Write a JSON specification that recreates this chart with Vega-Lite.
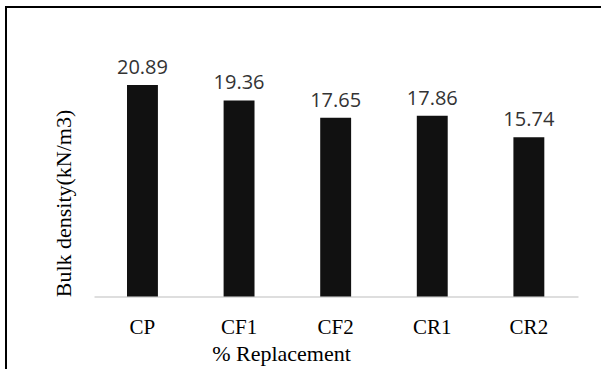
{
  "$schema": "https://vega.github.io/schema/vega-lite/v6.json",
  "width": 595,
  "height": 362,
  "autosize": {"type": "none"},
  "padding": {"left": 6, "top": 7, "right": 0, "bottom": 0},
  "background": "white",
  "config": {
    "view": {"stroke": "#000000", "strokeWidth": 2, "strokeDash": [595, 957, 362, 10]}
  },
  "data": {
    "values": [
      {"mix": "CP", "density": 20.89},
      {"mix": "CF1", "density": 19.36},
      {"mix": "CF2", "density": 17.65},
      {"mix": "CR1", "density": 17.86},
      {"mix": "CR2", "density": 15.74}
    ]
  },
  "encoding": {
    "x": {
      "field": "mix",
      "type": "nominal",
      "sort": null,
      "scale": {"paddingInner": 0.68, "paddingOuter": 0.9197, "align": 0.681},
      "axis": {
        "title": "% Replacement",
        "offset": -72.5,
        "labelAngle": 0,
        "ticks": false,
        "tickSize": 0,
        "labelFont": "Liberation Serif",
        "labelFontSize": 21,
        "labelColor": "#000000",
        "labelBaseline": "alphabetic",
        "labelPadding": 37,
        "domainColor": "#d4d4d4",
        "domainWidth": 1.7,
        "domainDash": [0, 88, 484, 200],
        "grid": false,
        "titleFont": "Liberation Serif",
        "titleFontSize": 22,
        "titleFontWeight": "normal",
        "titleColor": "#000000",
        "titleX": 275,
        "titleY": 63.5,
        "titleAlign": "center",
        "titleBaseline": "alphabetic"
      }
    },
    "y": {
      "field": "density",
      "type": "quantitative",
      "scale": {"domain": [-7.161, 28.595], "nice": false, "zero": false},
      "axis": {
        "title": "Bulk density(kN/m3)",
        "domain": false,
        "ticks": false,
        "labels": false,
        "grid": false,
        "titleFont": "Liberation Serif",
        "titleFontSize": 22,
        "titleFontWeight": "normal",
        "titleColor": "#000000",
        "titleAngle": 270,
        "titleX": 64,
        "titleY": 196,
        "titleAlign": "center",
        "titleBaseline": "alphabetic"
      }
    }
  },
  "layer": [
    {"mark": {"type": "bar", "color": "#111111"}},
    {
      "mark": {"type": "text", "font": "Open Sans", "fontSize": 20, "color": "#333333", "baseline": "alphabetic", "dy": -11},
      "encoding": {"text": {"field": "density", "type": "quantitative", "format": ".2f"}}
    }
  ]
}
